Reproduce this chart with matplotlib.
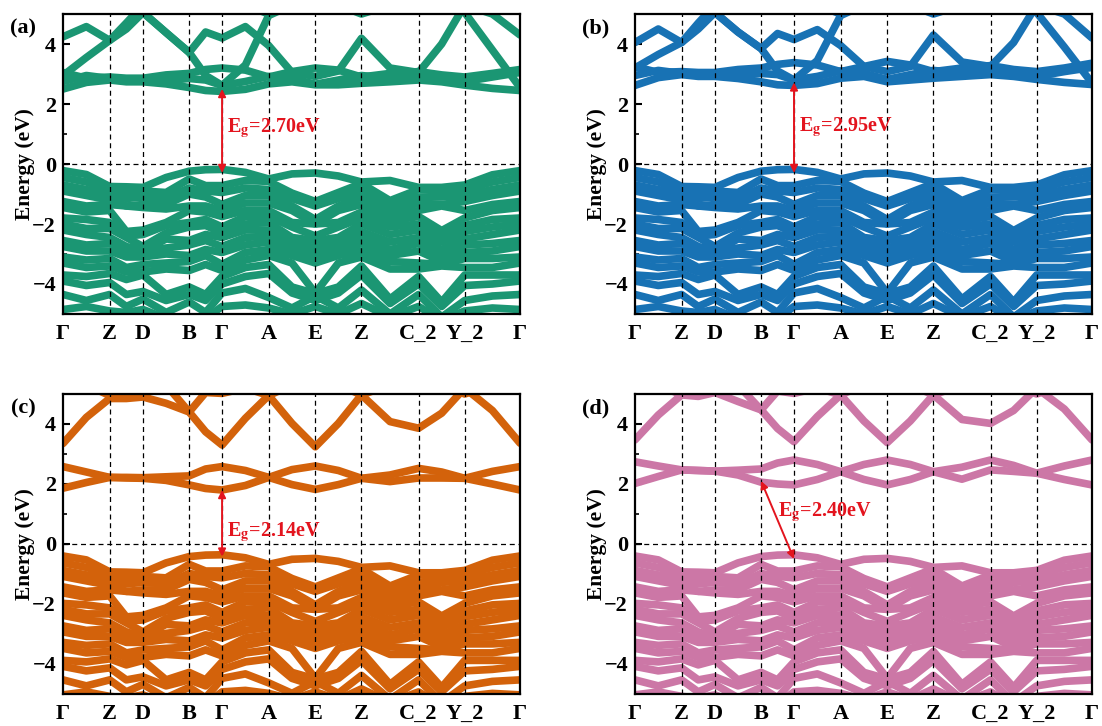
import matplotlib.pyplot as plt
import numpy as np
from matplotlib.ticker import MultipleLocator

plt.rcParams['font.family'] = ['Liberation Serif', 'DejaVu Serif']
plt.rcParams['font.weight'] = 'bold'
plt.rcParams['mathtext.fontset'] = 'stix'

# high-symmetry path
kpath_labels = ['Γ', 'Z', 'D', 'B', 'Γ', 'A', 'E', 'Z', 'C_2', 'Y_2', 'Γ']
kpath_pos = [0.0, 0.102, 0.175, 0.276, 0.348, 0.450, 0.552, 0.653, 0.778, 0.879, 1.0]

# band energies (eV) at the high-symmetry points and the segment middles
valence_bands = [
    [-0.22, -0.35, -0.75, -0.76, -0.78, -0.45, -0.24, -0.19, -0.18, -0.28, -0.50, -0.33, -0.30, -0.40, -0.60, -0.55, -0.78, -0.78, -0.70, -0.36, -0.22],
    [-0.45, -0.60, -0.85, -0.95, -0.90, -0.95, -0.50, -0.72, -0.72, -0.55, -0.58, -0.97, -1.25, -0.95, -0.65, -1.22, -0.85, -0.90, -0.85, -0.60, -0.45],
    [-0.70, -0.85, -1.00, -1.15, -1.10, -1.15, -0.80, -0.90, -0.95, -0.80, -0.85, -1.15, -1.40, -1.15, -0.90, -1.40, -1.10, -1.10, -1.05, -0.85, -0.70],
    [-0.90, -1.05, -1.20, -1.40, -1.35, -1.35, -1.00, -1.10, -1.35, -1.05, -1.05, -1.40, -1.85, -1.40, -1.10, -1.60, -1.30, -1.35, -1.25, -1.05, -0.90],
    [-1.25, -1.40, -1.35, -1.40, -1.45, -1.50, -1.40, -1.40, -1.55, -1.30, -1.30, -1.55, -2.00, -1.55, -1.35, -1.75, -1.55, -1.40, -1.55, -1.35, -1.25],
    [-1.45, -1.60, -1.55, -2.25, -2.20, -1.95, -1.55, -1.60, -1.75, -1.55, -1.55, -1.95, -2.00, -1.95, -1.60, -1.90, -1.75, -2.22, -1.80, -1.55, -1.45],
    [-1.80, -1.85, -1.95, -2.40, -2.35, -2.05, -1.95, -1.85, -2.10, -1.75, -1.75, -2.10, -2.40, -2.10, -1.80, -2.10, -2.00, -2.40, -2.05, -1.85, -1.80],
    [-2.00, -2.15, -2.15, -2.45, -2.75, -2.30, -2.10, -2.05, -2.30, -2.00, -1.95, -2.45, -2.55, -2.45, -2.00, -2.35, -2.20, -2.60, -2.25, -2.10, -2.00],
    [-2.20, -2.35, -2.45, -2.75, -2.90, -2.50, -2.55, -2.35, -2.45, -2.20, -2.20, -2.60, -2.80, -2.60, -2.25, -2.60, -2.45, -2.85, -2.50, -2.35, -2.20],
    [-2.55, -2.70, -2.65, -2.90, -2.90, -2.80, -2.70, -2.55, -2.75, -2.45, -2.40, -2.75, -2.95, -2.75, -2.45, -2.85, -2.65, -3.05, -2.70, -2.65, -2.55],
    [-2.75, -2.90, -2.90, -3.10, -3.10, -3.00, -3.05, -2.85, -2.95, -2.70, -2.60, -2.90, -3.15, -2.90, -2.65, -3.05, -2.90, -3.25, -2.95, -2.90, -2.75],
    [-3.10, -3.20, -3.15, -3.45, -3.35, -3.30, -3.25, -3.05, -3.35, -2.95, -2.85, -3.05, -3.30, -3.05, -2.90, -3.25, -3.30, -3.35, -3.15, -3.15, -3.10],
    [-3.30, -3.45, -3.40, -3.60, -3.60, -3.50, -3.55, -3.35, -3.55, -3.20, -3.05, -3.30, -4.30, -3.30, -3.10, -3.50, -3.50, -3.40, -3.45, -3.45, -3.30],
    [-3.70, -3.75, -3.65, -3.85, -3.70, -4.35, -4.10, -4.35, -3.75, -3.45, -3.35, -4.10, -4.32, -4.10, -3.40, -4.50, -3.75, -4.60, -3.70, -3.70, -3.70],
    [-3.90, -4.05, -3.95, -4.35, -4.25, -4.55, -4.35, -4.55, -4.00, -3.75, -3.65, -4.30, -4.55, -4.30, -3.70, -4.65, -4.00, -4.75, -4.05, -4.00, -3.90],
    [-4.35, -4.55, -4.35, -4.75, -4.50, -4.95, -4.60, -4.95, -4.30, -4.15, -4.45, -4.80, -4.40, -4.80, -4.20, -5.00, -4.35, -5.10, -4.55, -4.40, -4.35],
    [-4.85, -4.75, -4.90, -4.95, -4.85, -5.15, -5.10, -5.15, -4.75, -4.70, -4.80, -5.00, -4.75, -5.00, -4.65, -5.10, -4.75, -5.20, -4.90, -4.80, -4.85],
]
# valence top sits a little lower in (c) and (d)
valence_shift = [0.0, 0.0, -0.18, -0.18]

cond_a = [
    [2.50, 2.72, 2.80, 2.74, 2.74, 2.67, 2.55, 2.45, 2.42, 2.49, 2.67, 2.74, 2.64, 2.64, 2.69, 2.74, 2.80, 2.74, 2.63, 2.52, 2.45],
    [3.05, 2.86, 2.90, 2.86, 2.86, 2.97, 3.02, 3.15, 3.20, 3.13, 2.90, 3.08, 3.20, 3.13, 2.90, 3.02, 3.08, 2.97, 2.90, 3.02, 3.15],
    [2.75, 2.95, 2.85, 2.80, 2.78, 2.78, 2.85, 2.80, 2.62, 2.75, 2.92, 2.85, 2.66, 2.80, 2.95, 2.85, 2.95, 2.85, 2.75, 2.90, 3.05],
    [4.24, 4.58, 4.12, 4.50, 5.05, 4.38, 3.72, 4.40, 4.20, 4.58, 3.95, 3.05, 2.92, 3.10, 4.19, 3.20, 3.05, 4.00, 5.30, 5.00, 4.30],
    [2.95, 3.55, 4.12, 4.70, 5.30, 5.30, 5.30, 5.30, 5.30, 5.30, 5.00, 5.30, 5.30, 5.30, 5.00, 5.30, 5.30, 5.30, 5.05, 3.80, 2.55],
    [5.30, 5.30, 5.30, 5.30, 5.05, 4.38, 3.72, 2.95, 2.62, 3.30, 4.95, 5.30, 5.30, 5.30, 5.30, 5.30, 5.30, 5.30, 5.30, 5.30, 5.30],
]
cond_b = [
    [2.62, 2.88, 2.98, 2.92, 2.92, 2.85, 2.74, 2.64, 2.62, 2.68, 2.86, 2.92, 2.74, 2.80, 2.86, 2.92, 2.98, 2.92, 2.82, 2.72, 2.65],
    [3.25, 3.05, 3.08, 3.05, 3.05, 3.15, 3.20, 3.32, 3.38, 3.30, 3.08, 3.25, 3.42, 3.30, 3.08, 3.20, 3.28, 3.15, 3.08, 3.20, 3.36],
    [2.95, 3.12, 3.02, 2.98, 2.96, 2.96, 3.02, 2.98, 2.80, 2.92, 3.10, 3.02, 2.82, 2.98, 3.12, 3.02, 3.12, 3.02, 2.92, 3.08, 3.22],
    [4.05, 4.50, 4.05, 4.50, 5.05, 4.40, 3.85, 4.35, 4.15, 4.48, 3.95, 3.25, 3.08, 3.25, 4.30, 3.40, 3.25, 4.05, 5.30, 5.00, 4.20],
    [3.20, 3.65, 4.05, 4.70, 5.30, 5.30, 5.30, 5.30, 5.30, 5.30, 5.00, 5.30, 5.30, 5.30, 5.00, 5.30, 5.30, 5.30, 5.05, 3.90, 2.70],
    [5.30, 5.30, 5.30, 5.30, 5.05, 4.40, 3.85, 3.10, 2.80, 3.45, 4.95, 5.30, 5.30, 5.30, 5.30, 5.30, 5.30, 5.30, 5.30, 5.30, 5.30],
]
cond_c = [
    [1.86, 2.05, 2.22, 2.20, 2.19, 2.12, 1.97, 1.85, 1.80, 1.95, 2.22, 1.98, 1.82, 1.98, 2.19, 2.08, 2.20, 2.20, 2.19, 2.00, 1.80],
    [2.58, 2.40, 2.22, 2.22, 2.21, 2.24, 2.27, 2.50, 2.58, 2.45, 2.22, 2.48, 2.60, 2.45, 2.19, 2.30, 2.52, 2.40, 2.19, 2.42, 2.58],
    [3.35, 4.22, 4.85, 4.85, 4.90, 4.69, 4.40, 3.74, 3.30, 4.19, 4.95, 4.02, 3.24, 4.02, 4.97, 4.08, 3.86, 4.36, 5.20, 4.45, 3.36],
    [5.30, 5.30, 4.95, 5.30, 5.30, 5.30, 4.40, 5.05, 5.02, 5.20, 4.95, 5.30, 5.30, 5.30, 4.97, 5.30, 5.30, 5.30, 5.00, 5.30, 5.30],
]
cond_d = [
    [2.02, 2.25, 2.47, 2.45, 2.43, 2.30, 2.06, 2.00, 1.97, 2.15, 2.41, 2.15, 1.97, 2.15, 2.41, 2.16, 2.47, 2.42, 2.36, 2.15, 1.97],
    [2.74, 2.60, 2.47, 2.45, 2.43, 2.46, 2.50, 2.70, 2.80, 2.65, 2.41, 2.65, 2.80, 2.65, 2.41, 2.56, 2.80, 2.62, 2.36, 2.60, 2.80],
    [3.47, 4.30, 4.97, 4.92, 5.05, 4.75, 4.47, 3.85, 3.41, 4.25, 4.97, 4.10, 3.38, 4.10, 4.97, 4.15, 4.02, 4.45, 5.20, 4.50, 3.47],
    [5.30, 5.30, 4.97, 5.30, 5.30, 5.30, 4.47, 5.10, 5.02, 5.20, 4.97, 5.30, 5.30, 5.30, 4.97, 5.30, 5.30, 5.30, 5.00, 5.30, 5.30],
]

panel_tags = ['(a)', '(b)', '(c)', '(d)']
panel_colors = ['#1b9673', '#1872b4', '#d3620b', '#cc77a6']
gap_values = ['2.70', '2.95', '2.14', '2.40']
# arrow: from CBM (k index, energy) to VBM (k index, energy)
cbm_k = [4, 4, 4, 3]
cbm_e = [2.50, 2.72, 1.80, 2.10]
vbm_k = [4, 4, 4, 4]
vbm_e = [-0.30, -0.30, -0.42, -0.50]
label_k = [0.358, 0.358, 0.358, 0.312]
label_e = [1.20, 1.23, 0.40, 1.05]

# sampled k: high-symmetry points plus segment middles
k = np.interp(np.arange(21) / 2, np.arange(11), kpath_pos)

fig = plt.figure(figsize=(11.02, 7.26), dpi=100)
rects = [[0.0572, 0.5675, 0.4147, 0.4132], [0.5762, 0.5675, 0.4147, 0.4132],
         [0.0572, 0.0441, 0.4147, 0.4132], [0.5762, 0.0441, 0.4147, 0.4132]]
conds = [cond_a, cond_b, cond_c, cond_d]
red = '#e3141e'

for i in range(4):
    ax = fig.add_axes(rects[i])
    col = panel_colors[i]
    for band in valence_bands:
        ax.plot(k, np.array(band) + valence_shift[i], color=col, lw=5.5,
                solid_capstyle='round', solid_joinstyle='round', zorder=2)
    for band in conds[i]:
        ax.plot(k, band, color=col, lw=5.5,
                solid_capstyle='round', solid_joinstyle='round', zorder=2)

    # dashed guide lines
    for p in kpath_pos[1:-1]:
        ax.axvline(p, color='black', lw=0.9, ls=(0, (4, 3)), zorder=3)
    ax.axhline(0, color='black', lw=0.9, ls=(0, (4, 3)), zorder=3)

    # band gap arrow and label
    ax.annotate('', xy=(kpath_pos[vbm_k[i]], vbm_e[i]),
                xytext=(kpath_pos[cbm_k[i]], cbm_e[i]),
                arrowprops=dict(arrowstyle='<|-|>', color=red, lw=1.4,
                                mutation_scale=11, shrinkA=0, shrinkB=0),
                zorder=4)
    ax.text(label_k[i], label_e[i], r'E$_\mathbf{g}$=' + gap_values[i] + 'eV',
            color=red, fontsize=14.5, fontweight='bold', ha='left', va='center', zorder=5)

    ax.set_xlim(0, 1)
    ax.set_ylim(-5, 5)
    ax.set_xticks(kpath_pos)
    ax.set_xticklabels(kpath_labels)
    ax.set_yticks([-4, -2, 0, 2, 4])
    ax.yaxis.set_minor_locator(MultipleLocator(1))
    ax.tick_params(axis='x', length=0, pad=7, labelsize=16)
    ax.tick_params(axis='y', which='major', direction='in', length=5, width=1.5,
                   pad=5, labelsize=16)
    ax.tick_params(axis='y', which='minor', direction='in', length=3, width=1.2)
    for s in ax.spines.values():
        s.set_linewidth(1.6)
    ax.set_ylabel('Energy (eV)', fontsize=15.5, fontweight='bold')
    ax.yaxis.set_label_coords(-0.062, 0.5)

    x0, y0, w, h = rects[i]
    fig.text(x0 - 0.036, y0 + h - 0.02, panel_tags[i], fontsize=16,
             fontweight='bold', ha='center', va='center')

fig.savefig('out.png', dpi=100)
